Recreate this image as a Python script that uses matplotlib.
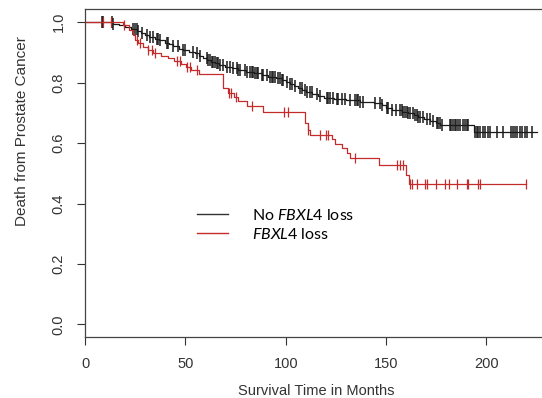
import numpy as np
import matplotlib
matplotlib.use('Agg')
import matplotlib.pyplot as plt
from matplotlib.lines import Line2D

plt.rcParams['font.family'] = ['Liberation Sans', 'DejaVu Sans']
plt.rcParams['mathtext.fontset'] = 'custom'
plt.rcParams['mathtext.rm'] = 'Lato'
plt.rcParams['mathtext.it'] = 'Lato:italic'

black = '#1a1a1a'
red = '#c42b2b'

# No FBXL4 loss: step times (months) and survival after each step
nofbx_t = [0, 14, 17, 20, 23, 26, 28, 30, 32, 35, 37, 40, 42, 44, 47, 49, 52, 55, 57, 59,
           61, 63, 65, 67, 70, 73, 76, 80, 84, 88, 91, 95, 98, 100, 102, 104, 106, 108, 110,
           113, 116, 119, 124, 130, 137, 144, 148, 150, 153, 158, 161, 164, 166, 169, 172,
           175, 177, 194]
nofbx_s = [1.0, 0.995, 0.99, 0.985, 0.978, 0.97, 0.963, 0.958, 0.952, 0.945, 0.94, 0.933,
           0.928, 0.92, 0.913, 0.907, 0.902, 0.897, 0.89, 0.883, 0.876, 0.87, 0.864, 0.858,
           0.852, 0.847, 0.842, 0.837, 0.831, 0.826, 0.82, 0.814, 0.808, 0.802, 0.796, 0.789,
           0.782, 0.776, 0.769, 0.762, 0.756, 0.75, 0.746, 0.742, 0.737, 0.732, 0.725, 0.717,
           0.71, 0.704, 0.698, 0.692, 0.686, 0.679, 0.672, 0.666, 0.66, 0.638]
nofbx_end = 225
nofbx_cens = [8.3, 9.1, 13.3, 14.1, 24.1, 24.9, 25.7, 26.6, 28.2, 30.7, 32.4, 34, 35.7, 36.5,
              37.4, 40.7, 41.5, 44, 46.5, 49, 49.8, 54, 55.6, 57.3, 60.6, 61.4, 62.3, 63.1,
              63.9, 64.8, 65.6, 66.4, 67.3, 68.9, 70.6, 72.2, 73.9, 75.6, 76.4, 77.2, 79.7,
              80.6, 82.2, 83.1, 83.9, 84.7, 85.5, 86.4, 88, 88.9, 90.5, 92.2, 93, 93.8, 94.7,
              96.3, 97.2, 98, 98.8, 100.5, 102.1, 102.9, 104.6, 107.1, 107.9, 109.6, 110.4,
              112.1, 112.9, 115.4, 117.1, 120.4, 121.2, 122.1, 123.7, 125.4, 126.2, 127.9,
              129.5, 132, 134.5, 135.4, 136.2, 137, 138.7, 144.5, 147, 148, 150.3, 151.2, 153,
              155, 157, 157.8, 158.6, 159.4, 160.3, 161.1, 161.9, 163.6, 164.4, 165.2, 166,
              166.9, 168.5, 170.2, 171.9, 173.5, 175.2, 176, 176.8, 177.7, 181.8, 182.6, 183.5,
              184.3, 185.1, 186, 186.8, 188.4, 189.3, 190.1, 190.9, 194.3, 195.1, 195.9, 196.8,
              198.4, 199.3, 200.9, 201.7, 205.1, 208.4, 212.5, 213.4, 214.2, 215, 216.7, 217.5,
              219.2, 220, 222.6]

# FBXL4 loss
fbx_t = [0, 19, 22, 24, 25, 26.5, 29, 31.5, 34, 38, 41.5, 44.5, 48, 50.5, 53, 57, 69, 71.4,
         74, 76, 80.5, 88.7, 109.6, 111, 112, 122.9, 124.6, 128, 130.4, 132, 146.5, 160, 161.5]
fbx_s = [1.0, 0.991, 0.974, 0.958, 0.941, 0.93, 0.919, 0.908, 0.897, 0.89, 0.882, 0.872,
         0.862, 0.852, 0.842, 0.829, 0.782, 0.765, 0.754, 0.74, 0.724, 0.704, 0.666, 0.645,
         0.627, 0.613, 0.597, 0.583, 0.566, 0.552, 0.527, 0.494, 0.465]
fbx_end = 219.7
fbx_cens = [9, 13, 19.5, 25.7, 27.4, 31.5, 33.2, 35, 45.7, 47.3, 50.7, 52.3, 55.6, 71.5, 72.5,
            75, 83, 99.3, 101, 111, 117, 120, 121, 134.5, 155.3, 157, 158.5, 162, 162.8,
            165.3, 169.4, 170.2, 174.9, 179.4, 181.5, 185.6, 190.1, 190.9, 196, 196.8, 219.7]


def km(ax, t, s, end, cens, color, ms=7, mew=0.9):
    t = np.asarray(t, float)
    s = np.asarray(s, float)
    ax.step(np.append(t, end), np.append(s, s[-1]), where='post', color=color, lw=0.9)
    c = np.asarray(cens, float)
    idx = np.searchsorted(t, c, side='right') - 1
    ax.plot(c, s[idx], ls='none', marker='|', ms=ms, mew=mew, color=color)


fig = plt.figure(figsize=(5.42, 3.98), dpi=100)
ax = fig.add_axes([85 / 542, (398 - 337.3) / 398, (546 - 85) / 542, 328 / 398])

km(ax, nofbx_t, nofbx_s, nofbx_end, nofbx_cens, black, ms=8, mew=1.1)
km(ax, fbx_t, fbx_s, fbx_end, fbx_cens, red)

ax.set_xlim(0, (546 - 85) / 2.007)
ax.set_ylim(-0.043, 1.043)
ax.set_xticks([0, 50, 100, 150, 200])
ax.set_yticks([0, 0.2, 0.4, 0.6, 0.8, 1.0])
ax.set_yticklabels(['0.0', '0.2', '0.4', '0.6', '0.8', '1.0'], rotation=90, va='center')
ax.tick_params(axis='both', direction='out', length=6, width=0.8, color='#333333',
               labelsize=10.5, labelcolor='#333333')
ax.tick_params(axis='x', pad=8)
ax.tick_params(axis='y', pad=8)
for sp in ax.spines.values():
    sp.set_color('#444444')
    sp.set_linewidth(0.9)

fig.text(316 / 542, (398 - 391) / 398, 'Survival Time in Months', ha='center', va='center',
         fontsize=10.5, color='#333333')
fig.text(22 / 542, (398 - 131) / 398, 'Death from Prostate Cancer', ha='center', va='center',
         rotation=90, fontsize=11, color='#333333')

handles = [Line2D([], [], color='#333333', lw=1.0), Line2D([], [], color=red, lw=1.0)]
ax.legend(handles, [r'No $\mathit{FBXL4}$ loss', r'$\mathit{FBXL4}$ loss'],
          loc='upper left', bbox_to_anchor=(197 / 542, (398 - 208) / 398),
          bbox_transform=fig.transFigure, frameon=False, prop={'family': 'Lato', 'size': 11.5},
          handlelength=1.95, handletextpad=1.5, labelspacing=0.25, borderpad=0,
          borderaxespad=0)

fig.savefig('out.png', dpi=100)
